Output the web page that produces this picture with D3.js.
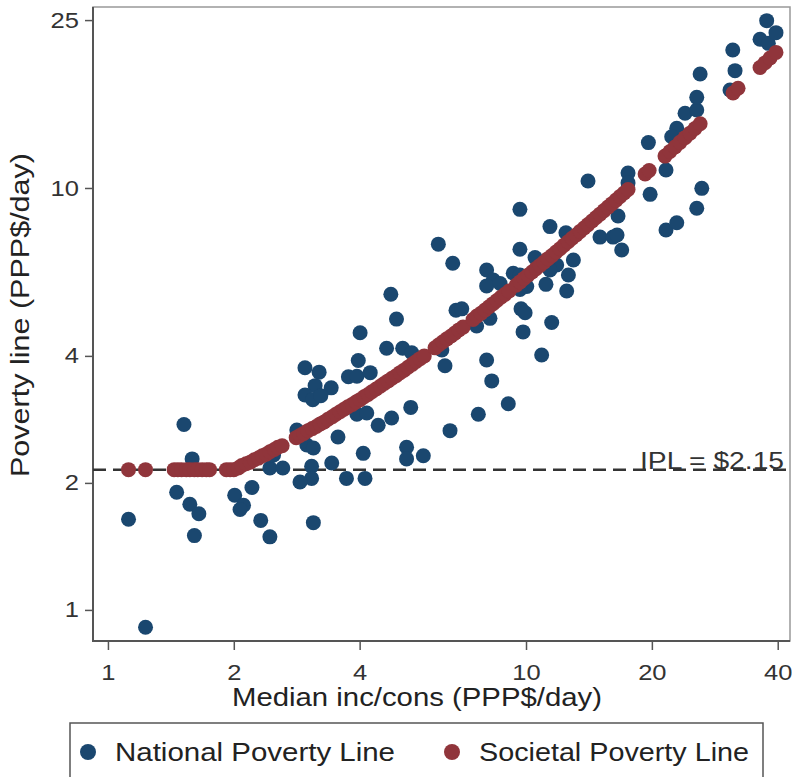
<!DOCTYPE html>
<html>
<head>
<meta charset="utf-8">
<script src="https://cdn.jsdelivr.net/npm/d3@7"></script>
<style>
  body { margin: 0; background: #fff; }
  svg { display: block; font-family: "Liberation Sans", Arial, sans-serif; }
</style>
</head>
<body>
<div id="chart"></div>
<script>
var natMedian = [1.12, 1.23, 1.52, 1.59, 1.46, 1.57, 1.65, 1.61, 2.01, 2.21, 2.11, 2.07, 2.32, 2.44, 2.44, 2.62, 2.49,
  2.83, 2.99, 3.10, 3.07, 3.07, 2.88, 3.43, 3.10, 2.96, 3.20, 3.13, 3.42, 2.96, 3.09, 3.23, 3.55, 3.72, 4.12, 4.08,
  3.94, 4.16, 3.97, 3.76, 3.94, 4.24, 4.43, 4.77, 5.30, 5.18, 5.18, 5.68, 4.01, 4.64, 5.07, 5.33, 4.75, 4.90, 6.17,
  6.68, 6.80, 7.02, 6.29, 6.40, 6.58, 8.05, 8.35, 8.05, 8.67, 9.32, 8.20, 7.62, 8.05, 8.28, 9.07, 7.69, 9.73, 9.95,
  9.84, 9.67, 11.41, 12.46, 9.67, 10.51, 12.98, 12.63, 12.51, 11.84, 11.41, 11.16, 9.67, 10.04, 9.67, 11.52, 10.90,
  14.07, 17.54, 17.54, 19.81, 16.60, 15.03, 16.15, 16.51, 16.94, 21.62, 26.33, 25.61, 21.62, 22.94, 19.62, 22.94,
  22.31, 24.01, 25.61, 25.61, 26.09, 30.76, 31.62, 31.23, 36.29, 37.98, 37.64, 39.62];
var natLine = [1.64, 0.91, 2.75, 2.28, 1.90, 1.78, 1.69, 1.50, 1.87, 1.95, 1.77, 1.73, 1.63, 1.49, 2.17, 2.17, 2.33,
  2.67, 2.46, 2.42, 2.19, 2.05, 2.01, 2.23, 1.61, 3.75, 3.66, 3.40, 3.36, 3.23, 3.15, 3.22, 2.57, 2.05, 2.05, 2.35,
  2.91, 2.93, 3.90, 3.57, 3.58, 3.65, 2.74, 2.85, 3.02, 2.43, 2.28, 2.32, 4.54, 4.17, 4.17, 4.07, 5.60, 4.89, 7.36,
  6.63, 5.13, 5.17, 4.13, 3.79, 2.66, 6.39, 6.05, 5.86, 5.94, 6.28, 4.91, 4.71, 3.91, 3.49, 3.08, 2.91, 5.17, 5.06,
  4.56, 8.90, 8.10, 7.83, 7.16, 6.84, 6.75, 6.22, 5.70, 6.57, 6.39, 5.91, 6.22, 5.84, 5.75, 4.80, 4.02,
  10.39, 10.85, 10.28, 9.66, 8.58, 7.65, 7.65, 7.74, 7.13, 11.03, 9.98, 8.95, 7.95, 8.27, 12.81, 13.85,
  13.23, 15.03, 15.30, 16.40, 18.63, 17.07, 18.97, 21.23, 22.51, 22.02, 24.92, 23.34];

// Societal poverty lines (red) : median, line
var socMedian = [1.12, 1.23, 1.44, 1.47, 1.50, 1.54, 1.57, 1.61, 1.64, 1.68, 1.72, 1.75, 1.92, 1.96, 2.00,
  2.05, 2.09, 2.14, 2.19, 2.24, 2.29, 2.34, 2.39, 2.44, 2.50, 2.55, 2.61,
  2.82, 2.88, 2.94, 3.01, 3.08, 3.15, 3.22, 3.29, 3.36, 3.44, 3.51, 3.59, 3.67, 3.75, 3.84, 3.92, 4.01, 4.10,
  4.19, 4.28, 4.38, 4.48, 4.58, 4.68, 4.78, 4.89, 5.00, 5.11, 5.22, 5.34, 5.46, 5.58, 5.71,
  6.06, 6.19, 6.33, 6.47, 6.62, 6.76, 6.91, 7.07,
  7.47, 7.63, 7.81, 7.98, 8.16, 8.34, 8.52, 8.71, 8.91, 9.11,
  9.47, 9.68, 9.89, 10.11, 10.34, 10.57, 10.80, 11.04, 11.29, 11.54, 11.80, 12.06, 12.33, 12.61, 12.89,
  13.18, 13.47, 13.77, 14.07, 14.39, 14.71, 15.03, 15.37, 15.71, 16.06, 16.42, 16.79, 17.16, 17.54,
  19.27, 19.70, 21.50, 22.10, 22.72, 23.35, 24.01, 24.68, 25.37, 26.09, 31.28, 32.15, 36.29, 37.30, 38.35, 39.62];
var socLine = [2.15, 2.15, 2.15, 2.15, 2.15, 2.15, 2.15, 2.15, 2.15, 2.15, 2.15, 2.15, 2.15, 2.15, 2.15,
  2.17, 2.20, 2.22, 2.24, 2.27, 2.29, 2.32, 2.34, 2.37, 2.40, 2.43, 2.45,
  2.56, 2.59, 2.62, 2.66, 2.69, 2.72, 2.76, 2.79, 2.83, 2.87, 2.91, 2.95, 2.99, 3.03, 3.07, 3.11, 3.15, 3.20,
  3.24, 3.29, 3.34, 3.39, 3.44, 3.49, 3.54, 3.59, 3.65, 3.70, 3.76, 3.82, 3.88, 3.94, 4.00,
  4.18, 4.25, 4.32, 4.39, 4.46, 4.53, 4.61, 4.68,
  4.88, 4.97, 5.05, 5.14, 5.23, 5.32, 5.41, 5.51, 5.60, 5.70,
  5.88, 5.99, 6.10, 6.21, 6.32, 6.44, 6.55, 6.67, 6.80, 6.92, 7.05, 7.18, 7.32, 7.46, 7.60,
  7.74, 7.89, 8.04, 8.19, 8.35, 8.51, 8.67, 8.84, 9.01, 9.18, 9.36, 9.55, 9.73, 9.92,
  10.79, 11.00, 11.90, 12.20, 12.51, 12.83, 13.16, 13.49, 13.84, 14.20, 16.79, 17.23, 19.30, 19.80, 20.33, 20.96];

var xTicks = [1, 2, 4, 10, 20, 40];
var yTicks = [1, 2, 4, 10, 25];
var ipl = 2.15;
var seriesNames = ["National Poverty Line", "Societal Poverty Line"];
var seriesColors = ["#1a476f", "#90353b"];

var W = 792, H = 777;
var pLeft = 93, pRight = 790, pTop = 7, pBottom = 641;
var stretch = 1.16;   // le texte de l'original est un peu étiré en largeur

var svg = d3.select("#chart").append("svg")
    .attr("width", W)
    .attr("height", H);

var x = d3.scaleLog().domain([0.921, 42.8]).range([pLeft, pRight]);
var y = d3.scaleLog().domain([0.844, 26.85]).range([pBottom, pTop]);

// cadre de la zone de tracé
svg.append("rect")
    .attr("x", pLeft).attr("y", pTop)
    .attr("width", pRight - pLeft).attr("height", pBottom - pTop)
    .attr("fill", "none").attr("stroke", "#999").attr("stroke-width", 1.5);

function widen(sel) {
    sel.each(function() {
        var w = this.getComputedTextLength();
        d3.select(this).attr("textLength", w * stretch).attr("lengthAdjust", "spacingAndGlyphs");
    });
}

var yAxis = svg.append("g")
    .attr("transform", "translate(" + pLeft + ",0)")
    .call(d3.axisLeft(y).tickValues(yTicks).tickFormat(d3.format("d")).tickSize(8).tickPadding(6));
var xAxis = svg.append("g")
    .attr("transform", "translate(0," + pBottom + ")")
    .call(d3.axisBottom(x).tickValues(xTicks).tickFormat(d3.format("d")).tickSize(9).tickPadding(14));

[yAxis, xAxis].forEach(function(g) {
    g.select(".domain").remove();
    g.selectAll(".tick line").attr("stroke", "#555").attr("stroke-width", 1.5);
    g.selectAll(".tick text")
        .attr("fill", "#333")
        .style("font-size", "22px")
        .style("font-family", "'Liberation Sans', Arial, sans-serif")
        .call(widen);
});

// axes gauche et bas plus foncés
svg.append("line").attr("x1", pLeft).attr("x2", pLeft).attr("y1", pTop).attr("y2", pBottom + 1)
    .attr("stroke", "#555").attr("stroke-width", 2);
svg.append("line").attr("x1", pLeft - 1).attr("x2", pRight).attr("y1", pBottom).attr("y2", pBottom)
    .attr("stroke", "#555").attr("stroke-width", 2);

// ligne IPL
svg.append("line")
    .attr("x1", pLeft).attr("x2", pRight)
    .attr("y1", y(ipl)).attr("y2", y(ipl))
    .attr("stroke", "#333").attr("stroke-width", 2.5)
    .attr("stroke-dasharray", "13,7");

svg.append("text")
    .attr("x", 784).attr("y", y(ipl) - 1)
    .attr("text-anchor", "end")
    .attr("fill", "#333")
    .style("font-size", "23px")
    .attr("textLength", 144).attr("lengthAdjust", "spacingAndGlyphs")
    .text("IPL = $2.15");

var r = 7.5;
var natData = natMedian.map(function(m, i) { return {m: m, v: natLine[i]}; });
var socData = socMedian.map(function(m, i) { return {m: m, v: socLine[i]}; });

svg.append("g").selectAll("circle")
    .data(natData)
    .enter().append("circle")
    .attr("cx", function(d) { return x(d.m); })
    .attr("cy", function(d) { return y(d.v); })
    .attr("r", r)
    .attr("fill", seriesColors[0]);

svg.append("g").selectAll("circle")
    .data(socData)
    .enter().append("circle")
    .attr("cx", function(d) { return x(d.m); })
    .attr("cy", function(d) { return y(d.v); })
    .attr("r", r)
    .attr("fill", seriesColors[1]);

// titres des axes
svg.append("text")
    .attr("x", 417).attr("y", 706)
    .attr("text-anchor", "middle")
    .attr("fill", "#222")
    .style("font-size", "25px")
    .attr("textLength", 370).attr("lengthAdjust", "spacingAndGlyphs")
    .text("Median inc/cons (PPP$/day)");

svg.append("text")
    .attr("transform", "translate(29,315) rotate(-90)")
    .attr("text-anchor", "middle")
    .attr("fill", "#222")
    .style("font-size", "25px")
    .attr("textLength", 324).attr("lengthAdjust", "spacingAndGlyphs")
    .text("Poverty line (PPP$/day)");

// légende
var legend = svg.append("g");
legend.append("rect")
    .attr("x", 70).attr("y", 723)
    .attr("width", 693).attr("height", 80)
    .attr("fill", "#fff").attr("stroke", "#555").attr("stroke-width", 1.5);

var legX = [88, 452], legW = [280, 270];
seriesNames.forEach(function(name, i) {
    legend.append("circle")
        .attr("cx", legX[i]).attr("cy", 752).attr("r", 8)
        .attr("fill", seriesColors[i]);
    legend.append("text")
        .attr("x", legX[i] + 27).attr("y", 761)
        .attr("fill", "#222")
        .style("font-size", "25px")
        .attr("textLength", legW[i]).attr("lengthAdjust", "spacingAndGlyphs")
        .text(name);
});
</script>
</body>
</html>
